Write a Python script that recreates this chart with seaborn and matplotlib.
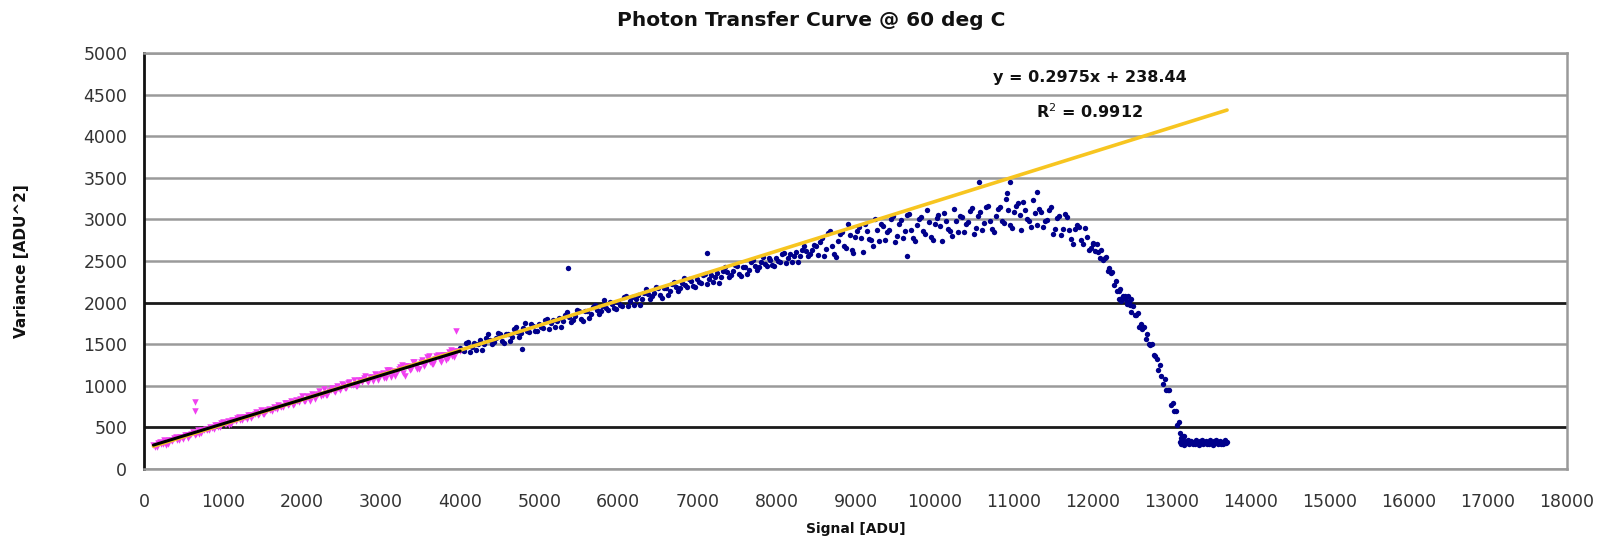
import numpy as np
import pandas as pd
import matplotlib
matplotlib.use("Agg")
import matplotlib.pyplot as plt
import seaborn as sns

# ---- low-signal points (fitted region) ----
low_x = [120, 160, 200, 240, 280, 320, 360, 400, 440, 480, 520, 560, 600, 640, 680, 720, 760, 800,
         840, 880, 920, 960, 1000, 1040, 1080, 1120, 1160, 1200, 1240, 1280, 1320, 1360, 1400, 1440,
         1480, 1520, 1560, 1600, 1640, 1680, 1720, 1760, 1800, 1840, 1880, 1920, 1960, 2000, 2040,
         2080, 2120, 2160, 2200, 2240, 2280, 2320, 2360, 2400, 2440, 2480, 2520, 2560, 2600, 2640,
         2680, 2720, 2760, 2800, 2840, 2880, 2920, 2960, 3000, 3040, 3080, 3120, 3160, 3200, 3240,
         3280, 3320, 3360, 3400, 3440, 3480, 3520, 3560, 3600, 3640, 3680, 3720, 3760, 3800, 3840,
         3880, 3920, 3960, 4000,
         140, 180, 220, 260, 300, 340, 380, 420, 460, 500, 540, 580, 620, 660, 700, 740, 780, 820,
         860, 900, 940, 980, 1020, 1060, 1100, 1140, 1180, 1220, 1260, 1300, 1340, 1380, 1420, 1460,
         1500, 1540, 1580, 1620, 1660, 1700, 1740, 1780, 1820, 1860, 1900, 1940, 1980, 2020, 2060,
         2100, 2140, 2180, 2220, 2260, 2300, 2340, 2380, 2420, 2460, 2500, 2540, 2580, 2620, 2660,
         2700, 2740, 2780, 2820, 2860, 2900, 2940, 2980, 3020, 3060, 3100, 3140, 3180, 3220, 3260,
         3300, 3340, 3380, 3420, 3460, 3500, 3540, 3580, 3620, 3660, 3700, 3740, 3780, 3820, 3860,
         3900, 3940,
         650, 650, 3950]
low_y = [286, 268, 323, 301, 293, 351, 333, 387, 347, 385, 413, 375, 425, 414, 468, 428, 474, 470,
         510, 480, 524, 506, 561, 539, 531, 589, 571, 625, 585, 623, 651, 613, 663, 652,
         706, 666, 712, 708, 748, 718, 762, 744, 799, 777, 769, 827, 809, 878, 812,
         863, 899, 836, 905, 883, 958, 892, 955, 943, 997, 946, 1006, 973, 1050, 1011,
         993, 1074, 1041, 1116, 1050, 1101, 1137, 1074, 1143, 1099, 1195, 1103, 1183, 1163, 1231,
         1159, 1235, 1187, 1285, 1230, 1202, 1306, 1258, 1354, 1262, 1326, 1370, 1282, 1370, 1338,
         1434, 1341, 1421, 1416,
         265, 314, 298, 343, 302, 347, 369, 351, 389, 357, 409, 409, 447, 424, 426, 463, 486, 464,
         494, 532, 503, 552, 536, 581, 540, 585, 607, 589, 627, 595, 647, 647, 684, 662,
         664, 701, 724, 702, 732, 770, 741, 790, 775, 819, 778, 823, 845, 821, 872,
         818, 890, 884, 935, 895, 892, 942, 970, 931, 970, 1021, 972, 1039, 1010, 1071,
         1003, 1068, 1092, 1059, 1110, 1056, 1128, 1122, 1157, 1098, 1190, 1152, 1114, 1206, 1248,
         1120, 1237, 1204, 1286, 1207, 1289, 1241, 1343, 1285, 1257, 1359, 1306, 1368, 1315, 1412,
         1358, 1420,
         800, 700, 1660]

# ---- full-range points ----
high_x = [4000, 4050, 4100, 4150, 4200, 4250, 4300, 4350, 4400, 4450, 4500, 4550, 4600, 4650, 4700,
          4750, 4800, 4850, 4900, 4950, 5000, 5050, 5100, 5150, 5200, 5250, 5300, 5350, 5400, 5450,
          5500, 5550, 5600, 5650, 5700, 5750, 5800, 5850, 5900, 5950, 6000, 6050, 6100, 6150, 6200,
          6250, 6300, 6350, 6400, 6450, 6500, 6550, 6600, 6650, 6700, 6750, 6800, 6850, 6900, 6950,
          7000, 7050, 7100, 7150, 7200, 7250, 7300, 7350, 7400, 7450, 7500, 7550, 7600, 7650, 7700,
          7750, 7800, 7850, 7900, 7950, 8000, 8050, 8100, 8150, 8200, 8250, 8300, 8350, 8400, 8450,
          8500,
          4025, 4075, 4125, 4175, 4225, 4275, 4325, 4375, 4425, 4475, 4525, 4575, 4625, 4675, 4725,
          4775, 4825, 4875, 4925, 4975, 5025, 5075, 5125, 5175, 5225, 5275, 5325, 5375, 5425, 5475,
          5525, 5575, 5625, 5675, 5725, 5775, 5825, 5875, 5925, 5975, 6025, 6075, 6125, 6175, 6225,
          6275, 6325, 6375, 6425, 6475, 6525, 6575, 6625, 6675, 6725, 6775, 6825, 6875, 6925, 6975,
          7025, 7075, 7125, 7175, 7225, 7275, 7325, 7375, 7425, 7475, 7525, 7575, 7625, 7675, 7725,
          7775, 7825, 7875, 7925, 7975, 8025, 8075, 8125, 8175, 8225, 8275, 8325, 8375, 8425, 8475,
          5363, 7117, 4778,
          8550, 8600, 8650, 8700, 8750, 8800, 8850, 8900, 8950, 9000, 9050, 9100, 9150, 9200, 9250,
          9300, 9350, 9400, 9450, 9500, 9550, 9600, 9650, 9700, 9750, 9800, 9850, 9900, 9950, 10000,
          10050, 10100, 10150, 10200, 10250, 10300, 10350, 10400, 10450, 10500, 10550, 10600, 10650,
          10700, 10750, 10800, 10850, 10900, 10950, 11000, 11050, 11100, 11150, 11200, 11250, 11300,
          11350, 11400, 11450, 11500, 11550, 11600, 11650, 11700, 11750, 11800, 11850, 11900, 11950,
          12000,
          8525, 8575, 8625, 8675, 8725, 8775, 8825, 8875, 8925, 8975, 9025, 9075, 9125, 9175, 9225,
          9275, 9325, 9375, 9425, 9475, 9525, 9575, 9625, 9675, 9725, 9775, 9825, 9875, 9925, 9975,
          10025, 10075, 10125, 10175, 10225, 10275, 10325, 10375, 10425, 10475, 10525, 10575, 10625,
          10675, 10725, 10775, 10825, 10875, 10925, 10975, 11025, 11075, 11125, 11175, 11225, 11275,
          11325, 11375, 11425, 11475, 11525, 11575, 11625, 11675, 11725, 11775, 11825, 11875, 11925,
          11975,
          10560, 10950, 11295, 10915, 9650,
          12010, 12030, 12050, 12070, 12090, 12110, 12130, 12150, 12170, 12190, 12210, 12230, 12250,
          12270, 12290, 12310, 12330, 12350, 12370, 12390, 12410, 12430, 12450, 12470, 12490, 12510,
          12530, 12550, 12570, 12590, 12610, 12630, 12650, 12670, 12690, 12710, 12730, 12750, 12770,
          12790, 12810, 12830, 12850, 12870, 12890, 12910, 12930, 12950, 12970, 12990, 13010, 13030,
          13050, 13070, 13090, 13110, 13130, 13150,
          12330, 12360, 12420, 12460, 12480,
          13100, 13115, 13130, 13145, 13160, 13175, 13190, 13205, 13220, 13235, 13250, 13265, 13280,
          13295, 13310, 13325, 13340, 13355, 13370, 13385, 13400, 13415, 13430, 13445, 13460, 13475,
          13490, 13505, 13520, 13535, 13550, 13565, 13580, 13595, 13610, 13625, 13640, 13655, 13670,
          13685, 13700, 13120, 13140]
high_y = [1460, 1414, 1528, 1472, 1426, 1545, 1499, 1618, 1497, 1571, 1625, 1509, 1623, 1592, 1706,
          1590, 1689, 1663, 1742, 1661, 1740, 1693, 1806, 1749, 1702, 1820, 1773, 1891, 1769, 1842,
          1895, 1779, 1893, 1862, 1976, 1860, 1959, 1933, 2012, 1931, 2010, 1964, 2078, 2022, 1976,
          2095, 2049, 2168, 2047, 2121, 2175, 2058, 2171, 2139, 2252, 2135, 2233, 2206, 2284, 2202,
          2280, 2233, 2346, 2289, 2242, 2360, 2313, 2431, 2309, 2382, 2435, 2317, 2429, 2396, 2508,
          2390, 2487, 2459, 2536, 2453, 2530, 2483, 2596, 2539, 2492, 2610, 2563, 2681, 2559, 2632,
          2685,
          1427, 1516, 1410, 1519, 1498, 1427, 1571, 1555, 1524, 1638, 1537, 1626, 1540, 1679, 1643,
          1632, 1756, 1645, 1719, 1653, 1706, 1795, 1688, 1796, 1774, 1702, 1845, 1828, 1796, 1909,
          1807, 1896, 1810, 1949, 1913, 1902, 2026, 1915, 1989, 1923, 1977, 2066, 1960, 2069, 2048,
          1977, 2121, 2105, 2074, 2188, 2086, 2174, 2087, 2225, 2188, 2176, 2299, 2187, 2260, 2193,
          2246, 2334, 2227, 2335, 2313, 2241, 2384, 2367, 2335, 2448, 2346, 2433, 2345, 2482, 2444,
          2431, 2553, 2440, 2512, 2444, 2496, 2584, 2477, 2585, 2563, 2491, 2634, 2617, 2585, 2698,
          2410, 2602, 1440,
          2724, 2558, 2842, 2676, 2550, 2822, 2684, 2946, 2628, 2790, 2912, 2604, 2856, 2748, 3010,
          2738, 2926, 2844, 3002, 2730, 2946, 2772, 3048, 2874, 2740, 3004, 2858, 3112, 2786, 2940,
          3054, 2738, 2982, 2866, 3120, 2844, 3028, 2942, 3096, 2820, 3040, 2870, 3150,
          2980, 2850, 3122, 2984, 3246, 2928, 3090, 3196, 2872, 3108, 2984, 3230, 2932,
          3094, 2986, 3118, 2820, 3012, 2814, 3066, 2868, 2710, 2934, 2748, 2892, 2636,
          2710,
          2577, 2771, 2645, 2859, 2583, 2746, 2848, 2660, 2812, 2594, 2866, 2778, 2950, 2762, 2684,
          2874, 2942, 2750, 2868, 3046, 2803, 2989, 2855, 3061, 2777, 2932, 3026, 2830, 2974, 2748,
          3012, 2916, 3080, 2884, 2798, 2982, 3046, 2850, 2964, 3138, 2895, 3085, 2955,
          3165, 2885, 3046, 3148, 2960, 3112, 2894, 3158, 3054, 3210, 3006, 2912, 3081,
          3123, 2905, 2997, 3149, 2881, 3043, 2885, 3027, 2759, 2882, 2906, 2700, 2794,
          2658,
          3450, 3450, 3333, 3320, 2560,
          2720, 2620, 2710, 2610, 2540, 2629, 2517, 2530, 2550, 2385, 2420, 2350, 2370,
          2207, 2259, 2140, 2140, 2165, 2055, 2075, 2074, 1982, 2080, 1968, 1886, 1965,
          1845, 1850, 1870, 1705, 1744, 1682, 1710, 1559, 1623, 1504, 1492, 1505, 1367,
          1359, 1324, 1192, 1250, 1118, 1016, 1081, 953, 950, 954, 773, 790, 700,
          700, 525, 565, 427, 400, 393,
          2040, 2020, 2030, 2010, 2040,
          330, 300, 345, 315, 290, 335, 310, 350, 295, 320, 340, 305, 330,
          300, 345, 315, 290, 335, 310, 350, 295, 320, 340, 305, 330, 300,
          345, 315, 290, 335, 310, 350, 295, 320, 340, 305, 330, 300, 345,
          315, 325, 370, 380]

# linear trend of the full data set, as reported on the chart
trend_slope = 0.2975
trend_intercept = 238.44
trend_r2 = 0.9912

x_ticks = list(range(0, 18001, 1000))
y_ticks = list(range(0, 5001, 500))

low_df = pd.DataFrame({"signal": low_x, "variance": low_y})
high_df = pd.DataFrame({"signal": high_x, "variance": high_y})

# straight-line fit of the low-signal points
fit = np.polyfit(low_df["signal"], low_df["variance"], 1)
fit_x = np.array([min(low_x), max(low_x)])
fit_df = pd.DataFrame({"signal": fit_x, "variance": np.polyval(fit, fit_x)})

trend_x = np.array([min(low_x), max(high_x)])
trend_df = pd.DataFrame({"signal": trend_x,
                         "variance": trend_slope * trend_x + trend_intercept})

sns.set_theme(style="white")
plt.rcParams["font.family"] = ["DejaVu Sans"]

fig = plt.figure(figsize=(16.10, 5.43), dpi=100)
ax = fig.add_axes([0.0894, 0.1363, 0.8839, 0.7661])

# horizontal gridlines: grey, with darker lines at 500 and 2000
for yv in y_ticks:
    dark = yv in (500, 2000)
    ax.axhline(yv, color="#1a1a1a" if dark else "#9a9a9a",
               lw=2.0 if dark else 1.8, zorder=0.5)

sns.scatterplot(data=high_df, x="signal", y="variance", ax=ax, color="#00008B",
                s=15, linewidth=0, marker="o", zorder=2, legend=False)
sns.scatterplot(data=low_df, x="signal", y="variance", ax=ax, color="#F040F0",
                s=22, linewidth=0, marker="v", zorder=3, legend=False)
sns.lineplot(data=trend_df, x="signal", y="variance", ax=ax, color="#F7C520",
             lw=2.6, zorder=4, legend=False)
sns.lineplot(data=fit_df, x="signal", y="variance", ax=ax, color="#000000",
             lw=2.2, zorder=5, legend=False)

ax.set_xlim(0, 18000)
ax.set_ylim(0, 5000)
ax.set_xticks(x_ticks)
ax.set_yticks(y_ticks)
ax.set_xticklabels([str(v) for v in x_ticks])
ax.set_yticklabels([str(v) for v in y_ticks])
ax.tick_params(axis="both", which="major", labelsize=12.5, colors="#1a1a1a",
               length=5, width=1.6, direction="out", pad=7)
ax.tick_params(axis="x", labelcolor="#333333", pad=12)
ax.tick_params(axis="y", labelcolor="#333333")

for side in ("top", "right", "bottom"):
    ax.spines[side].set_visible(True)
    ax.spines[side].set_color("#9a9a9a")
    ax.spines[side].set_linewidth(1.8)
ax.spines["left"].set_color("#111111")
ax.spines["left"].set_linewidth(2.0)

ax.set_xlabel("Signal [ADU]", fontsize=10, fontweight="bold", color="#111111", labelpad=8)
ax.set_ylabel("Variance [ADU^2]", fontsize=11, fontweight="bold", color="#111111", labelpad=39)

fig.text(0.504, 0.962, "Photon Transfer Curve @ 60 deg C", ha="center", va="center",
         fontsize=14.5, fontweight="bold", color="#111111")

ax.text(11960, 4700, f"y = {trend_slope}x + {trend_intercept}", ha="center", va="center",
        fontsize=11.5, fontweight="bold", color="#111111")
ax.text(11960, 4300, rf"R$^2$ = {trend_r2}", ha="center", va="center",
        fontsize=11.5, fontweight="bold", color="#111111")

fig.savefig("out.png", dpi=100, facecolor="white")
